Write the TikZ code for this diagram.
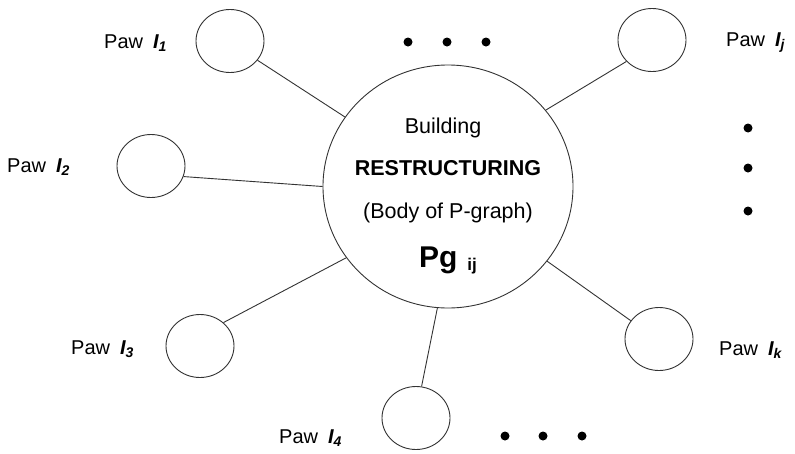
\documentclass[tikz,border=0pt]{standalone}
\usepackage{fontspec}
\setmainfont{Liberation Sans}
\usetikzlibrary{shapes.geometric}
\newcommand{\pawlabel}[1]{Paw\hspace{10pt}{\bfseries\itshape I\raisebox{-3pt}{\fontsize{14}{16}\selectfont #1}}}
\begin{document}
\begin{tikzpicture}[x=1pt,y=-1pt,
	paw/.style={draw=black!80,line width=0.9pt,ellipse,inner sep=0pt,minimum width=68pt,minimum height=63pt},
	pawtext/.style={anchor=base west,inner sep=0pt,font=\fontsize{20}{23}\selectfont},
	hubtext/.style={anchor=base,inner sep=0pt,font=\fontsize{21.5}{26}\selectfont},
	link/.style={draw=black!80,line width=0.9pt}]
\useasboundingbox (0,0) rectangle (795,453);

\node[draw=black!80,line width=0.9pt,ellipse,inner sep=0pt,minimum width=250pt,minimum height=243pt] (hub) at (448,186.5) {};
\node[hubtext] (bld) at (443,133) {Building};
\node[hubtext,font=\fontsize{21.5}{26}\selectfont\bfseries] (rst) at (448,175) {RESTRUCTURING};
\node[hubtext] (body) at (448,218) {(Body of P-graph)};
\node[hubtext] (pg) at (448,267) {\fontsize{30}{36}\selectfont\bfseries Pg\hspace{10pt}\raisebox{-3pt}{\fontsize{17}{20}\selectfont ij}};

\node[paw] (p1) at (230,41) {};
\node[paw] (p2) at (151,166) {};
\node[paw] (p3) at (200,346) {};
\node[paw] (p4) at (416,418) {};
\node[paw] (pk) at (659,339) {};
\node[paw] (pj) at (652,40) {};

\node[pawtext] (l1) at (104,48) {\pawlabel{1}};
\node[pawtext] (l2) at (7,172) {\pawlabel{2}};
\node[pawtext] (l3) at (71,354) {\pawlabel{3}};
\node[pawtext] (l4) at (279,443) {\pawlabel{4}};
\node[pawtext] (lk) at (719,355) {\pawlabel{k}};
\node[pawtext] (lj) at (726,46) {\pawlabel{j}};

\draw[link] (hub.146) -- (p1.-35);
\draw[link] (hub.180) -- (p2.-18);
\draw[link] (hub.215) -- (p3.45);
\draw[link] (hub.265) -- (p4.80);
\draw[link] (hub.-37) -- (pk.147);
\draw[link] (hub.38) -- (pj.220);

\foreach \x in {408,447,486} \fill (\x,42) circle (4.5pt);
\foreach \y in {128,168,211} \fill (748,\y) circle (4.5pt);
\foreach \x in {505,543,582} \fill (\x,436) circle (4.5pt);
\end{tikzpicture}
\end{document}
